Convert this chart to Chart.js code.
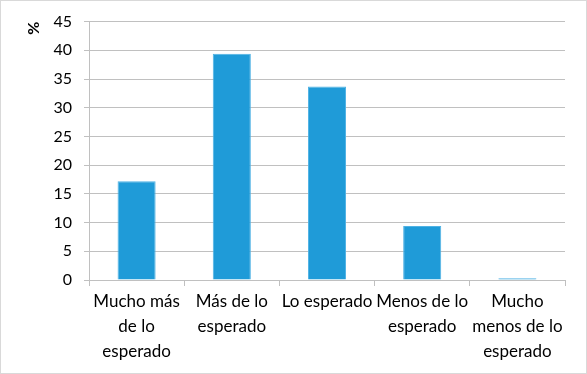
<!DOCTYPE html>
<html>
<head>
<meta charset="utf-8">
<script src="https://cdn.jsdelivr.net/npm/chart.js@4/dist/chart.umd.min.js"></script>
<style>
  html, body { margin: 0; padding: 0; background: #fff; }
  #wrap { width: 587px; height: 374px; }
</style>
</head>
<body>
<div id="wrap"><canvas id="expChart" width="587" height="374"></canvas></div>
<script>
// categories and values
var categories = [
  ['Mucho más', 'de lo', 'esperado'],
  ['Más de lo', 'esperado'],
  'Lo esperado',
  ['Menos de lo', 'esperado'],
  ['Mucho', 'menos de lo', 'esperado']
];
var percentValues = [17.2, 39.4, 33.7, 9.4, 0.3];
var yTicks = [0, 5, 10, 15, 20, 25, 30, 35, 40, 45];

var gridGray = '#c0c0c0';
var fontFamily = 'Lato, "Liberation Sans", sans-serif';

// white background + thin frame round the whole chart
var framePlugin = {
  id: 'frame',
  beforeDraw: function(chart) {
    var c = chart.ctx;
    c.save();
    c.fillStyle = '#fff';
    c.fillRect(0, 0, chart.width, chart.height);
    c.strokeStyle = '#d9d9d9';
    c.lineWidth = 1;
    c.strokeRect(0.5, 0.5, chart.width - 1, chart.height - 1);
    c.restore();
  }
};

var ctx = document.getElementById('expChart').getContext('2d');
var expChart = new Chart(ctx, {
  type: 'bar',
  data: {
    labels: categories,
    datasets: [{
      label: '%',
      data: percentValues,
      backgroundColor: '#1f9bd8',
      borderColor: '#4fb2e4',
      borderWidth: 1,
      categoryPercentage: 0.8,
      barPercentage: 0.5
    }]
  },
  options: {
    responsive: false,
    animation: false,
    layout: { padding: { left: 0, right: 22, top: 21, bottom: 0 } },
    plugins: {
      legend: { display: false },
      tooltip: { enabled: false }
    },
    scales: {
      x: {
        grid: { drawOnChartArea: false, drawTicks: true, tickLength: 6, color: gridGray },
        border: { color: gridGray },
        ticks: {
          color: '#000',
          font: { family: fontFamily, size: 17, lineHeight: 1.47 },
          maxRotation: 0,
          autoSkip: false,
          padding: 3
        },
        afterFit: function(scale) { scale.height = 94; }
      },
      y: {
        min: 0,
        max: 45,
        afterBuildTicks: function(scale) {
          scale.ticks = yTicks.map(function(v) { return { value: v }; });
        },
        grid: { color: gridGray, tickLength: 5 },
        border: { color: gridGray },
        ticks: { color: '#000', font: { family: fontFamily, size: 16 }, padding: 12 },
        title: {
          display: true,
          text: '%',
          align: 'end',
          color: '#000',
          font: { family: fontFamily, size: 16, weight: 'bold' },
          padding: { top: 24, bottom: 0 }
        },
        afterFit: function(scale) { scale.width = 89; }
      }
    }
  },
  plugins: [framePlugin]
});
</script>
</body>
</html>
